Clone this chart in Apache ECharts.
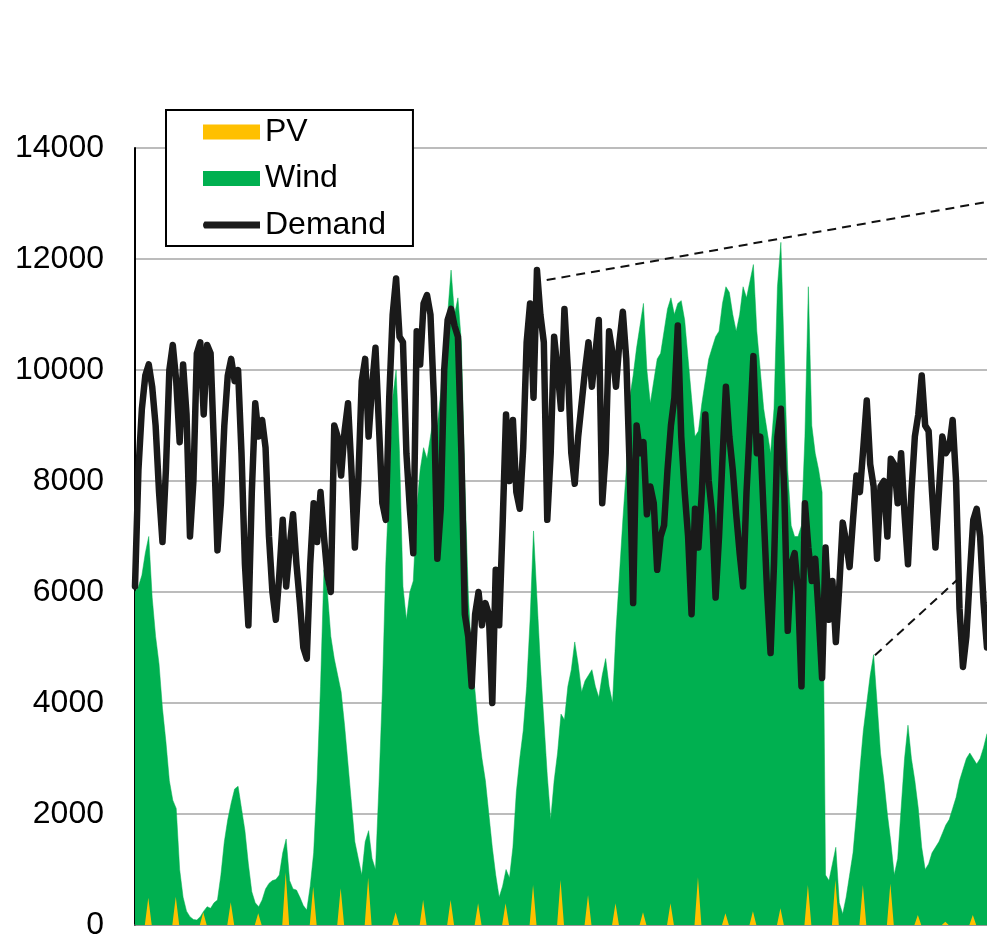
<!DOCTYPE html>
<html>
<head>
<meta charset="utf-8">
<title>PV, Wind and Demand</title>
<script src="https://cdn.jsdelivr.net/npm/echarts@6/dist/echarts.min.js"></script>
<style>
  html, body { margin: 0; padding: 0; background: #fff; }
  #chart { width: 987px; height: 936px; }
</style>
</head>
<body>
<div id="chart"></div>
<script>
// Hourly time axis: one month (31 days), series sampled every 3 hours.
const STEP_HOURS = 3;
const TOTAL_HOURS = 744;

// Y-axis tick values
const yTicks = [0, 2000, 4000, 6000, 8000, 10000, 12000, 14000];

// Electricity demand, 3-hourly, day by day (00,03,06,09,12,15,18,21 h)
const demand = [
  6100, 8200, 9300, 9900, 10100, 9700, 9000, 7800,
  6900, 8200, 10000, 10450, 9800, 8700, 10100, 9200,
  7000, 8000, 10300, 10500, 9200, 10450, 10300, 8600,
  6750, 7600, 9000, 9900, 10200, 9800, 10000, 8500,
  6500, 5400, 7800, 9400, 8800, 9100, 8600, 7000,
  6000, 5500, 6300, 7300, 6100, 6800, 7400, 6500,
  5800, 5000, 4800, 6500, 7600, 6900, 7800, 7000,
  6300, 6000, 9000, 8800, 8100, 8900, 9400, 8200,
  6800, 8000, 9800, 10200, 8800, 9700, 10400, 9000,
  7600, 7300, 9500, 11000, 11650, 10600, 10500, 8500,
  7500, 6700, 10700, 10100, 11200, 11350, 11000, 9500,
  6600, 7500, 10000, 10900, 11100, 10800, 10600, 8500,
  5600, 5200, 4300, 5600, 6000, 5400, 5800, 5600,
  4000, 6400, 5400, 7200, 9200, 8000, 9100, 7800,
  7500, 8600, 10500, 11200, 9500, 11800, 11000, 10500,
  7300, 8500, 10600, 10000, 9300, 11100, 10000, 8500,
  7950, 8800, 9400, 10000, 10500, 9700, 10300, 10900,
  7600, 8500, 10700, 10300, 9700, 10500, 11050, 10200,
  8200, 5800, 9000, 8500, 8700, 7400, 7900, 7600,
  6400, 7000, 7200, 8200, 9000, 9500, 10800, 8800,
  7800, 7000, 5600, 7500, 6800, 7800, 9200, 8000,
  7400, 5900, 7000, 8400, 9700, 8800, 8200, 7400,
  6700, 6100, 7800, 9000, 10250, 8500, 8800, 7400,
  6000, 4900, 6500, 8800, 9300, 7800, 5300, 6500,
  6700, 6000, 4300, 7600, 6800, 6200, 6600, 5600,
  4450, 6800, 5500, 6200, 5100, 6100, 7250, 6900,
  6450, 7300, 8100, 7800, 8600, 9450, 8300, 7900,
  6600, 7900, 8000, 7000, 8400, 8300, 7600, 8500,
  7400, 6500, 7800, 8800, 9200, 9900, 9000, 8900,
  7800, 6800, 7800, 8800, 8500, 8600, 9100, 8000,
  5700, 4650, 5200, 6300, 7300, 7500, 7000, 5800,
  5000
];

// Wind generation, 3-hourly
const wind = [
  6000, 6100, 6300, 6700, 7000, 5900, 5200, 4700, 3900, 3300,
  2600, 2250, 2100, 1000, 500, 250, 150, 100, 90, 150,
  250, 330, 300, 400, 450, 900, 1500, 1900, 2200, 2450,
  2500, 2100, 1700, 1100, 600, 400, 330, 450, 650, 750,
  800, 820, 900, 1300, 1550, 800, 650, 630, 500, 350,
  270, 700, 1300, 2600, 4300, 6400, 6000, 5200, 4800, 4500,
  4200, 3600, 2900, 2200, 1500, 1200, 900, 1500, 1700, 1200,
  1000, 2500, 4200, 6500, 8000, 9500, 10000, 8500, 6100, 5500,
  6000, 6200, 7500, 8200, 8600, 8400, 8800, 9200, 9000, 9600,
  10500, 11000, 11800, 11000, 11300, 10500, 8000, 6000, 4800, 4200,
  3500, 3000, 2600, 2000, 1400, 900, 500, 700, 1000, 850,
  1400, 2400, 3000, 3500, 4300, 5500, 7100, 5900, 4700, 3700,
  2700, 1900, 2600, 3100, 3800, 3700, 4300, 4600, 5100, 4700,
  4200, 4400, 4500, 4600, 4300, 4100, 4500, 4800, 4300, 4000,
  5300, 6300, 7300, 8200, 9500, 9900, 10400, 10800, 11200, 10000,
  9400, 9800, 10200, 10300, 10700, 11100, 11300, 11000, 11200, 11250,
  10900, 10200, 9500, 8800, 8900, 9400, 9800, 10200, 10400, 10600,
  10700, 11200, 11500, 11400, 11000, 10700, 11000, 11500, 11300, 11600,
  11900, 10700, 10000, 9300, 8900, 8500, 9300, 11500, 12300, 10200,
  8200, 7200, 7000, 7000, 7200, 8800, 11500, 9000, 8500, 8200,
  7800, 900, 800, 1100, 1400, 400, 200, 500, 900, 1300,
  2000, 2800, 3500, 4000, 4500, 4870, 4000, 3100, 2600, 2000,
  1500, 900, 1200, 2100, 3000, 3600, 3000, 2600, 2100, 1400,
  1000, 1100, 1300, 1400, 1500, 1650, 1800, 1900, 2100, 2300,
  2600, 2800, 3000, 3100, 3000, 2900, 3000, 3200, 3450
];

// PV output: midday peak of each day (zero at night)
const pvPeak = [
  490, 510, 230, 410, 210, 950, 690, 660, 850, 230,
  450, 450, 390, 390, 720, 810, 540, 390, 230, 390, 860,
  210, 250, 300, 720, 810, 720, 750, 180, 60, 180
];
const PV_NOON_HOUR = 11.6;   // hour of day of the PV peak
const PV_HALF_SPAN = 3;      // hours from first output to peak

// Leader lines towards detail views (hour, MW)
const leaderLines = [
  [[359.5, 11620], [744, 13030]],
  [[646.2, 4860], [717.8, 6215]]
];

const toPairs = arr => arr.map((v, i) => [i * STEP_HOURS, v]);

const pvData = [];
pvPeak.forEach((v, d) => {
  const noon = d * 24 + PV_NOON_HOUR;
  pvData.push([noon - PV_HALF_SPAN, 0], [noon, v], [noon + PV_HALF_SPAN, 0]);
});

const FONT = '"Liberation Sans", Arial, sans-serif';
const chart = echarts.init(document.getElementById('chart'), null, { renderer: 'canvas' });

chart.setOption({
  animation: false,
  backgroundColor: '#ffffff',
  textStyle: { fontFamily: FONT },
  grid: { left: 135, right: 0, top: 148, bottom: 11, outerBoundsMode: 'none' },
  legend: {
    left: 166,
    top: 110,
    orient: 'vertical',
    padding: [6, 27, 5, 37],
    itemGap: 14.5,
    itemWidth: 57,
    itemHeight: 15,
    borderColor: '#000',
    borderWidth: 2,
    backgroundColor: '#fff',
    textStyle: { fontSize: 32, lineHeight: 30, color: '#000', fontFamily: FONT },
    data: [
      { name: 'PV', icon: 'rect' },
      { name: 'Wind', icon: 'rect' },
      { name: 'Demand', icon: 'path://M3,0 L57,0 L57,7 L3,7 Q0,3.5 3,0 Z' }
    ]
  },
  xAxis: {
    type: 'value',
    min: 0,
    max: TOTAL_HOURS,
    axisLine: { show: true, lineStyle: { color: '#8c8c8c', width: 1.5 } },
    axisTick: { show: false },
    axisLabel: { show: false },
    splitLine: { show: false }
  },
  yAxis: {
    type: 'value',
    min: yTicks[0],
    max: yTicks[yTicks.length - 1],
    interval: yTicks[1] - yTicks[0],
    axisLine: { show: true, lineStyle: { color: '#000', width: 2 } },
    axisTick: { show: false },
    axisLabel: {
      fontSize: 32, color: '#000', margin: 31, fontFamily: FONT,
      formatter: v => String(v)
    },
    splitLine: { show: true, lineStyle: { color: '#a6a6a6', width: 1.5 } }
  },
  series: [
    {
      name: 'Wind',
      type: 'line',
      data: toPairs(wind),
      showSymbol: false,
      color: '#00b050',
      lineStyle: { width: 0.5, color: '#00b050' },
      areaStyle: { color: '#00b050', opacity: 1 },
      z: 2
    },
    {
      name: 'PV',
      type: 'line',
      data: pvData,
      showSymbol: false,
      color: '#ffc000',
      lineStyle: { width: 0 },
      areaStyle: { color: '#ffc000', opacity: 1 },
      z: 3
    },
    {
      name: 'Demand',
      type: 'line',
      data: toPairs(demand),
      showSymbol: false,
      symbol: 'none',
      color: '#1a1a1a',
      lineStyle: { width: 6.5, color: '#1a1a1a', join: 'round', cap: 'round' },
      z: 4,
      markLine: {
        silent: true,
        symbol: 'none',
        label: { show: false },
        lineStyle: { type: [9, 6], color: '#111', width: 2 },
        data: leaderLines.map(([a, b]) => [{ coord: a }, { coord: b }])
      }
    }
  ]
});
</script>
</body>
</html>
